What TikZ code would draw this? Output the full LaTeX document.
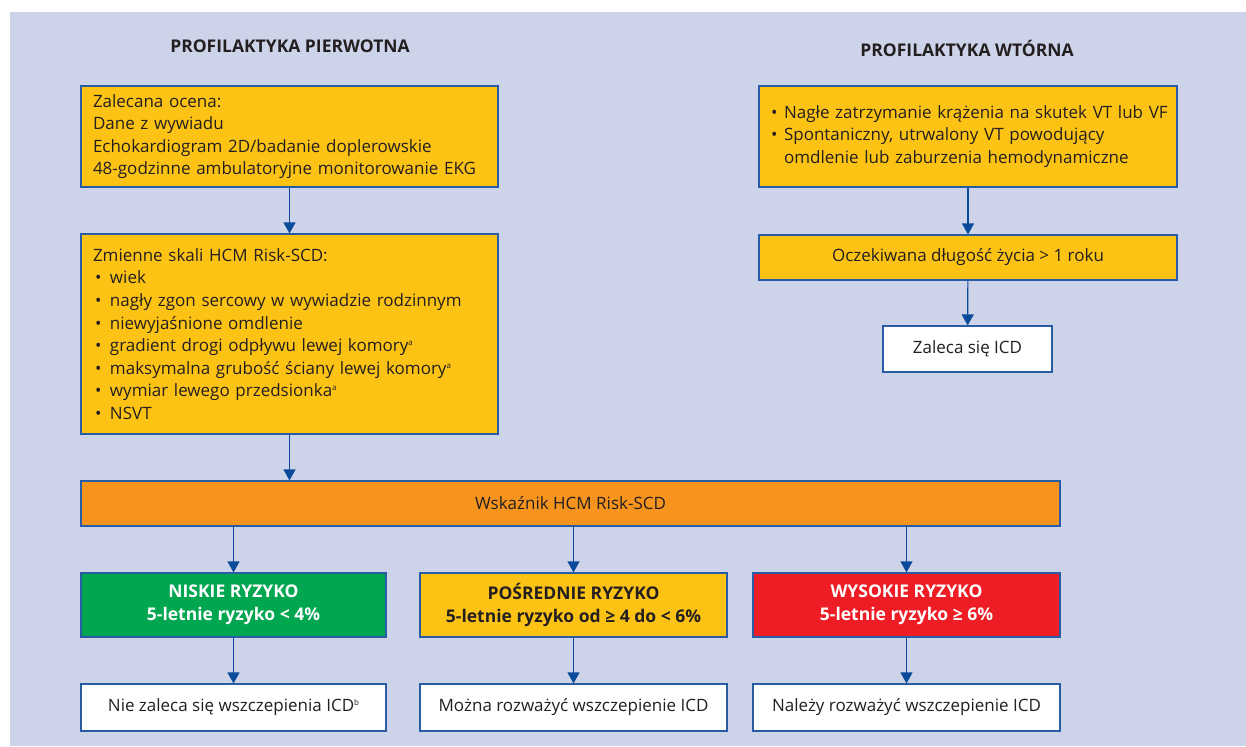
\documentclass[tikz,border=0pt]{standalone}
\usepackage{fontspec}
\setmainfont{Open Sans}
\usetikzlibrary{arrows.meta,positioning}
\definecolor{tlo}{HTML}{CDD3E8}
\definecolor{zolty}{HTML}{FDC314}
\definecolor{pomarancz}{HTML}{F7941E}
\definecolor{zielony}{HTML}{00A650}
\definecolor{czerwony}{HTML}{EE1D25}
\definecolor{ramka}{HTML}{2A5CA6}
\definecolor{strzalka}{HTML}{0A4A9A}
\definecolor{tekst}{HTML}{231F20}
\newcommand{\pkt}{\hspace*{2pt}\makebox[15pt][l]{\textbullet}}
\newcommand{\pktw}{\hspace*{3pt}\makebox[13pt][l]{\textbullet}}
\newcommand{\przyp}[1]{\raisebox{6pt}{\fontsize{8}{8}\selectfont #1}}

\begin{document}
\begin{tikzpicture}[x=1pt, y=-1pt,
    box/.style={draw=ramka, line width=1.2pt, text=tekst, inner sep=0pt,
      font=\fontsize{17}{22.6}\selectfont},
    lista/.style={box, fill=zolty, align=left, inner xsep=12pt},
    ryzyko/.style={box, text=white, align=center, minimum width=306pt,
      minimum height=64pt, font=\bfseries\fontsize{17.5}{23}\selectfont},
    wynik/.style={box, fill=white, minimum width=306pt, minimum height=47pt},
    tytul/.style={font=\bfseries\fontsize{17.5}{20}\selectfont, text=tekst},
    strz/.style={draw=strzalka, line width=1.2pt,
      -{Triangle[length=11pt, width=12pt]}}]

    % Background
    \useasboundingbox (0,0) rectangle (1246,746);
    \fill[tlo] (10,12) rectangle (1246,746);

    % Headings
    \node[tytul] (hp) at (290,46) {PROFILAKTYKA PIERWOTNA};
    \node[tytul] (hw) at (967,48) {PROFILAKTYKA WTÓRNA};

    % Primary prevention
    \node[lista, text width=393pt, minimum height=101pt] (ocena) at (289.5,136.5)
      {Zalecana ocena:\\
       Dane z wywiadu\\
       Echokardiogram 2D/badanie doplerowskie\\
       48-godzinne ambulatoryjne monitorowanie EKG};
    \node[lista, text width=393pt, minimum height=200pt] (zmienne) at (289.5,334)
      {Zmienne skali HCM Risk-SCD:\\
       \pkt wiek\\
       \pkt nagły zgon sercowy w wywiadzie rodzinnym\\
       \pkt niewyjaśnione omdlenie\\
       \pkt gradient drogi odpływu lewej komory\przyp{a}\\
       \pkt maksymalna grubość ściany lewej komory\przyp{a}\\
       \pkt wymiar lewego przedsionka\przyp{a}\\
       \pkt NSVT};
    \node[box, fill=pomarancz, minimum width=979pt, minimum height=45pt] (wsk)
      at (570.5,503.5) {Wskaźnik HCM Risk-SCD};

    % Risk groups
    \node[ryzyko, fill=zielony, minimum width=305pt] (niskie) at (233.5,605)
      {NISKIE RYZYKO\\5-letnie ryzyko < 4\%};
    \node[ryzyko, fill=zolty, text=tekst, minimum width=307pt] (posrednie) at (573.5,605)
      {POŚREDNIE RYZYKO\\5-letnie ryzyko od ≥ 4 do < 6\%};
    \node[ryzyko, fill=czerwony, minimum width=307pt] (wysokie) at (906.5,605)
      {WYSOKIE RYZYKO\\5-letnie ryzyko ≥ 6\%};

    \node[wynik, minimum width=305pt] (nie) at (233.5,707.5)
      {Nie zaleca się wszczepienia ICD\przyp{b}};
    \node[wynik, minimum width=307pt] (mozna) at (573.5,707.5)
      {Można rozważyć wszczepienie ICD};
    \node[wynik, minimum width=307pt] (nalezy) at (906.5,707.5)
      {Należy rozważyć wszczepienie ICD};

    % Secondary prevention
    \node[lista, text width=400pt, inner xsep=9pt, minimum height=101pt] (zatrz)
      at (968,136.5)
      {\pktw\mbox{Nagłe zatrzymanie krążenia na skutek VT lub VF}\\
       \pktw Spontaniczny, utrwalony VT powodujący\\
       \hspace*{16pt}omdlenie lub zaburzenia hemodynamiczne};
    \node[box, fill=zolty, minimum width=418pt, minimum height=45pt] (zycie)
      at (968,257.5) {Oczekiwana długość życia > 1 roku};
    \node[box, fill=white, minimum width=169pt, minimum height=46pt] (zaleca)
      at (967.5,349) {Zaleca się ICD};

    % Arrows
    \draw[strz] (ocena) -- (zmienne);
    \draw[strz] (zmienne) -- (zmienne.south |- wsk.north);
    \draw[strz] (wsk.south -| niskie.north) -- (niskie);
    \draw[strz] (wsk.south -| posrednie.north) -- (posrednie);
    \draw[strz] (wsk.south -| wysokie.north) -- (wysokie);
    \draw[strz] (niskie) -- (nie);
    \draw[strz] (posrednie) -- (mozna);
    \draw[strz] (wysokie) -- (nalezy);
    \draw[strz] (zatrz) -- (zycie);
    \draw[strz] (zycie) -- (zaleca);
\end{tikzpicture}
\end{document}
